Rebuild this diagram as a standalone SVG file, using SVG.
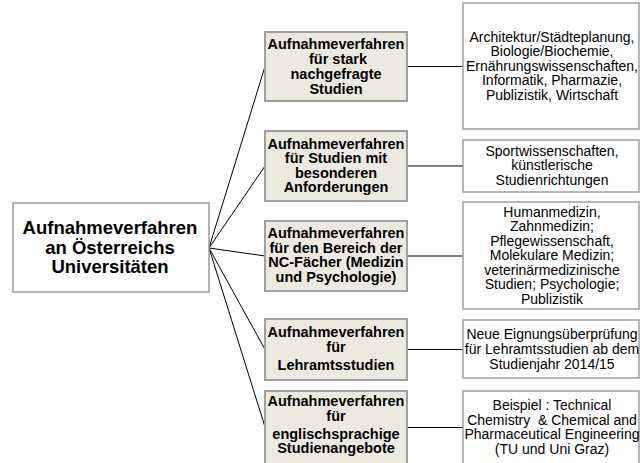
<svg xmlns="http://www.w3.org/2000/svg" width="640" height="463" viewBox="0 0 640 463">
<style>
.root{fill:#ffffff;stroke:#9a9a9a;stroke-width:1.5}
.mid{fill:#ECEAE0;stroke:#a0a0a0;stroke-width:2}
.leaf{fill:#ffffff;stroke:#a0a0a0;stroke-width:1.5}
.tr{font-family:"Liberation Sans",Arial,sans-serif;font-weight:bold;font-size:18.5px;fill:#000;text-anchor:middle}
.tm{font-family:"Liberation Sans",Arial,sans-serif;font-weight:bold;font-size:14.5px;fill:#000;text-anchor:middle}
.tl{font-family:"Liberation Sans",Arial,sans-serif;font-size:14px;fill:#000;text-anchor:middle}
.c{stroke:#000;stroke-width:1;fill:none}
</style>
<rect width="640" height="463" fill="#ffffff"/>
<g id="connectors">
<line class="c" x1="209" y1="248" x2="265" y2="66.5"/>
<line class="c" x1="209" y1="248" x2="265" y2="166"/>
<line class="c" x1="209" y1="248" x2="265" y2="256"/>
<line class="c" x1="209" y1="248" x2="265" y2="349.5"/>
<line class="c" x1="209" y1="248" x2="265" y2="427"/>
<line class="c" x1="407" y1="66.5" x2="463" y2="66.5"/>
<line x1="407" y1="166" x2="463" y2="166" stroke="#555" stroke-width="1.5"/>
<line class="c" x1="407" y1="256" x2="463" y2="256"/>
<line class="c" x1="407" y1="349.5" x2="463" y2="349.5"/>
<line class="c" x1="407" y1="427.5" x2="463" y2="427.5"/>
</g>
<g id="root">
<rect class="root" x="13" y="203" width="196" height="89"/>
<text class="tr" x="110" y="234">Aufnahmeverfahren</text>
<text class="tr" x="110" y="253.5">an Österreichs</text>
<text class="tr" x="110" y="273">Universitäten</text>
</g>
<g id="m1">
<rect class="mid" x="265" y="32" width="142" height="69"/>
<text class="tm" x="336" y="48.5">Aufnahmeverfahren</text>
<text class="tm" x="338" y="63.5">für stark</text>
<text class="tm" x="336" y="78.5">nachgefragte</text>
<text class="tm" x="336" y="93.5">Studien</text>
</g>
<g id="m2">
<rect class="mid" x="265" y="131" width="142" height="70"/>
<text class="tm" x="336" y="148.5">Aufnahmeverfahren</text>
<text class="tm" x="336" y="163">für Studien mit</text>
<text class="tm" x="336" y="177.5">besonderen</text>
<text class="tm" x="336" y="192">Anforderungen</text>
</g>
<g id="m3">
<rect class="mid" x="265" y="221" width="142" height="70"/>
<text class="tm" x="336" y="238">Aufnahmeverfahren</text>
<text class="tm" x="336" y="252.5">für den Bereich der</text>
<text class="tm" x="336" y="267">NC-Fächer (Medizin</text>
<text class="tm" x="336" y="281.5">und Psychologie)</text>
</g>
<g id="m4">
<rect class="mid" x="265" y="319" width="142" height="61"/>
<text class="tm" x="336" y="336.5">Aufnahmeverfahren</text>
<text class="tm" x="336" y="351.5">für</text>
<text class="tm" x="336" y="369.5">Lehramtsstudien</text>
</g>
<g id="m5">
<rect class="mid" x="265" y="391" width="142" height="75"/>
<text class="tm" x="336" y="406">Aufnahmeverfahren</text>
<text class="tm" x="336" y="421">für</text>
<text class="tm" x="336" y="438.5">englischsprachige</text>
<text class="tm" x="336" y="453">Studienangebote</text>
</g>
<g id="r1">
<rect class="leaf" x="463" y="3" width="176" height="126"/>
<text class="tl" x="552" y="41.5">Architektur/Städteplanung,</text>
<text class="tl" x="552" y="56">Biologie/Biochemie,</text>
<text class="tl" x="552" y="70.5">Ernährungswissenschaften,</text>
<text class="tl" x="552" y="85">Informatik, Pharmazie,</text>
<text class="tl" x="552" y="99.5">Publizistik, Wirtschaft</text>
</g>
<g id="r2">
<rect class="leaf" x="463" y="140" width="176" height="52"/>
<text class="tl" x="552" y="155.5">Sportwissenschaften,</text>
<text class="tl" x="552" y="170">künstlerische</text>
<text class="tl" x="552" y="184.5">Studienrichtungen</text>
</g>
<g id="r3">
<rect class="leaf" x="463" y="202" width="176" height="107"/>
<text class="tl" x="552" y="216.5">Humanmedizin,</text>
<text class="tl" x="552" y="231">Zahnmedizin;</text>
<text class="tl" x="552" y="245.5">Pflegewissenschaft,</text>
<text class="tl" x="552" y="260">Molekulare Medizin;</text>
<text class="tl" x="552" y="274.5">veterinärmedizinische</text>
<text class="tl" x="552" y="289">Studien; Psychologie;</text>
<text class="tl" x="552" y="303.5">Publizistik</text>
</g>
<g id="r4">
<rect class="leaf" x="463" y="320" width="176" height="58"/>
<text class="tl" x="552" y="339">Neue Eignungsüberprüfung</text>
<text class="tl" x="552" y="354">für Lehramtsstudien ab dem</text>
<text class="tl" x="552" y="368.5">Studienjahr 2014/15</text>
</g>
<g id="r5">
<rect class="leaf" x="463" y="391" width="176" height="75"/>
<text class="tl" x="552" y="410">Beispiel : Technical</text>
<text class="tl" x="552" y="424.5" xml:space="preserve">Chemistry  &amp; Chemical and</text>
<text class="tl" x="552" y="439">Pharmaceutical Engineering</text>
<text class="tl" x="552" y="453.5">(TU und Uni Graz)</text>
</g>
</svg>
